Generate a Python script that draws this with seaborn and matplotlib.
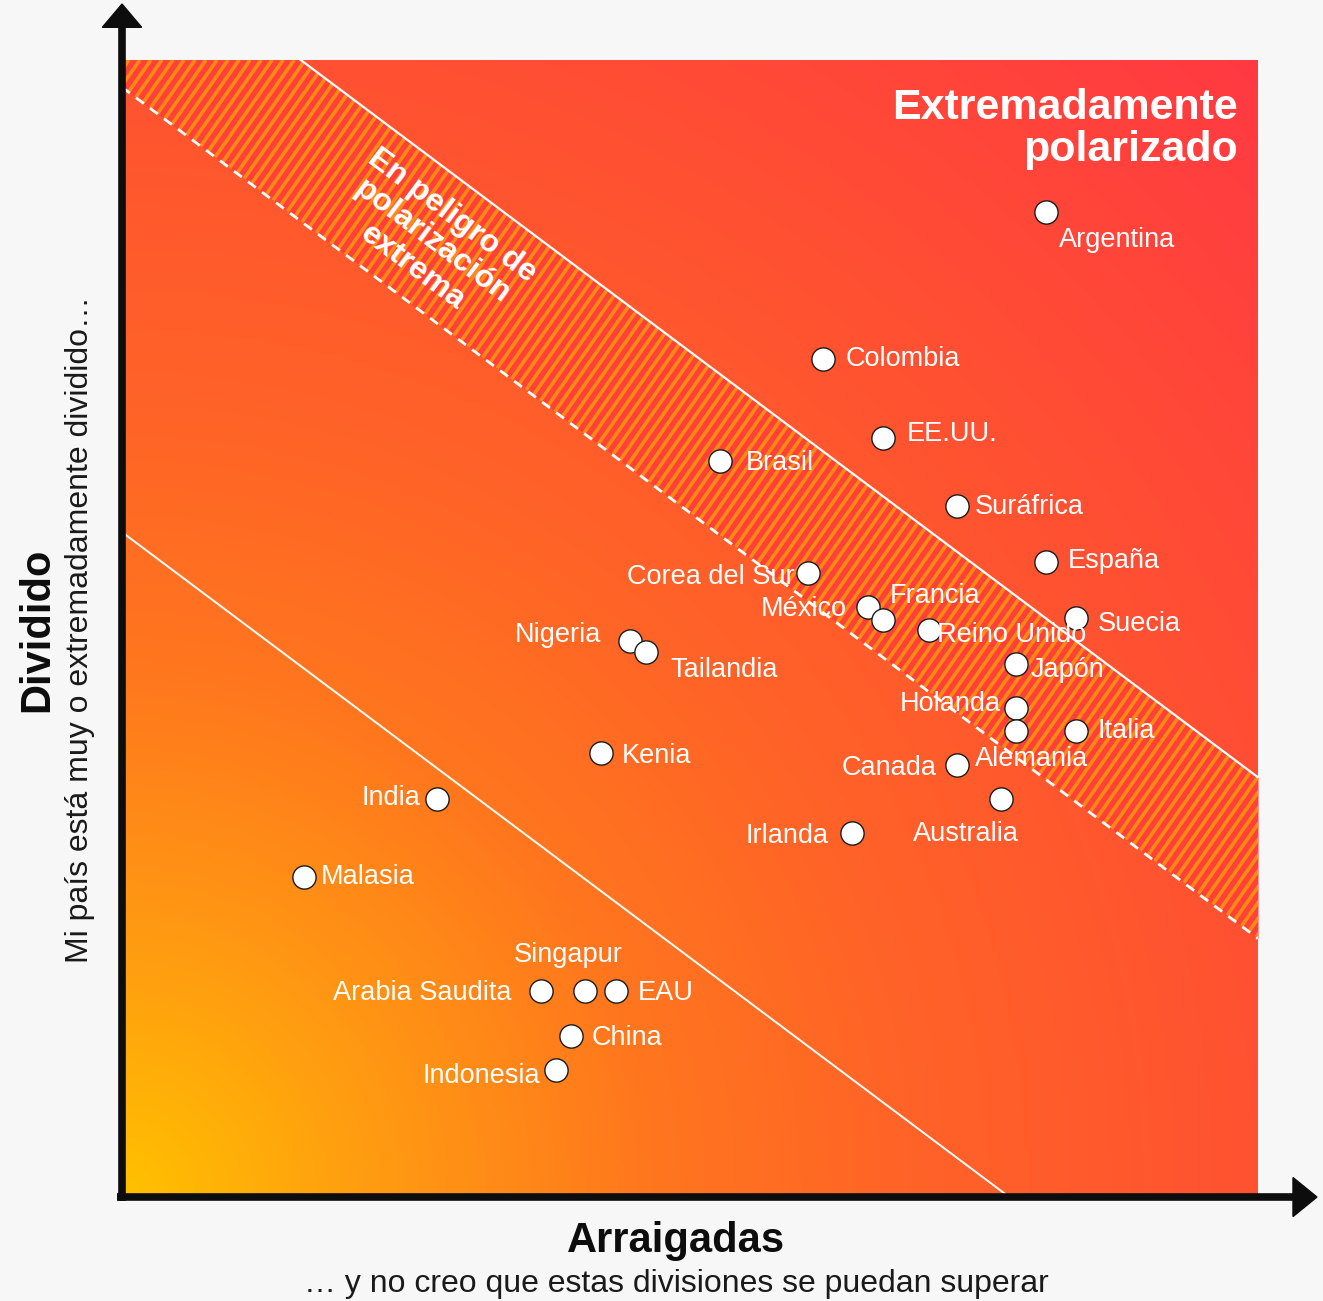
import numpy as np
import pandas as pd
import seaborn as sns
import matplotlib.pyplot as plt
from matplotlib.colors import LinearSegmentedColormap
from matplotlib.collections import LineCollection
from matplotlib.patches import Polygon

# ---- data: position of each country on the two axes (0-100) ----
countries = ['Argentina', 'Colombia', 'EE.UU.', 'Brasil', 'Suráfrica', 'España',
             'Corea del Sur', 'México', 'Francia', 'Reino Unido', 'Suecia', 'Japón',
             'Holanda', 'Alemania', 'Italia', 'Canada', 'Australia', 'Irlanda',
             'Nigeria', 'Tailandia', 'Kenia', 'India', 'Malasia', 'Singapur',
             'Arabia Saudita', 'EAU', 'China', 'Indonesia']
arraigadas = [81.3, 61.7, 67.0, 52.6, 73.5, 81.3,
              60.4, 65.7, 67.0, 71.0, 84.0, 78.7,
              78.7, 78.7, 84.0, 73.5, 77.4, 64.3,
              44.7, 46.1, 42.2, 27.7, 16.0, 40.8,
              36.9, 43.5, 39.5, 38.2]
dividido = [86.6, 73.7, 66.7, 64.7, 60.7, 55.8,
            54.8, 51.8, 50.7, 49.8, 50.8, 46.8,
            42.9, 40.9, 40.9, 37.9, 34.9, 31.9,
            48.8, 47.8, 38.9, 34.9, 28.0, 18.0,
            18.0, 18.0, 14.0, 11.0]

# zone boundaries: y = c - slope * x
zone_slope = 0.75
c_extreme = 111.8
c_risk = 97.6
c_low = 58.4

df = pd.DataFrame({'pais': countries, 'arraigadas': arraigadas, 'dividido': dividido})

# label placement (offset in pixels from the point, alignment)
label_pos = {
    'Argentina': (13, -28, 'left'), 'Colombia': (23, 0, 'left'),
    'EE.UU.': (24, 4, 'left'), 'Brasil': (26, -2, 'left'),
    'Suráfrica': (18, -1, 'left'), 'España': (22, 1, 'left'),
    'Corea del Sur': (-14, -4, 'right'), 'México': (-22, -2, 'right'),
    'Francia': (7, 24, 'left'), 'Reino Unido': (8, -5, 'left'),
    'Suecia': (22, -6, 'left'), 'Japón': (15, -6, 'left'),
    'Holanda': (-15, 4, 'right'), 'Alemania': (-41, -28, 'left'),
    'Italia': (21, 0, 'left'), 'Canada': (-20, -3, 'right'),
    'Australia': (-88, -35, 'left'), 'Irlanda': (-24, -3, 'right'),
    'Nigeria': (-29, 6, 'right'), 'Tailandia': (25, -18, 'left'),
    'Kenia': (20, -3, 'left'), 'India': (-16, 1, 'right'),
    'Malasia': (17, 0, 'left'), 'Singapur': (-17, 36, 'center'),
    'Arabia Saudita': (-30, -2, 'right'), 'EAU': (22, -2, 'left'),
    'China': (21, -2, 'left'), 'Indonesia': (-16, -6, 'right'),
}

sns.set_style('white')
plt.rcParams['font.family'] = ['Liberation Sans', 'DejaVu Sans']

fig = plt.figure(figsize=(13.23, 13.01), dpi=100, facecolor='#F7F7F7')
ax = fig.add_axes([122 / 1323, 106 / 1301, 1136 / 1323, 1135 / 1301])
ax.set_xlim(0, 100)
ax.set_ylim(0, 100)
ax.axis('off')

# radial gradient background from the origin
gx, gy = np.meshgrid(np.linspace(0, 100, 400), np.linspace(0, 100, 400))
r = np.hypot(gx, gy) / np.hypot(100, 100)
cmap = LinearSegmentedColormap.from_list('polar', [
    (0.0, '#FFC000'), (0.16, '#FF9A12'), (0.33, '#FF761E'),
    (0.5, '#FF6228'), (0.707, '#FF5231'), (1.0, '#FF3942')])
ax.imshow(r, extent=[0, 100, 0, 100], origin='lower', cmap=cmap, vmin=0, vmax=1,
          aspect='auto', zorder=0, interpolation='bilinear')

# striped "at risk" band
xs = np.linspace(0, 100, 401)
upper = np.minimum(c_extreme - zone_slope * xs, 100)
lower = c_risk - zone_slope * xs
band = ax.fill_between(xs, lower, upper, color='#FF4139', lw=0, zorder=1)
step = 0.97
tilt = 1.43
segs = [[(x0, 0), (x0 + 100 / tilt, 100)] for x0 in np.arange(-80, 101, step)]
stripes = LineCollection(segs, colors='#FF8A12', linewidths=2.6, zorder=2)
ax.add_collection(stripes)
stripes.set_clip_path(band.get_paths()[0], ax.transData)

# boundary lines
ax.plot(xs, c_extreme - zone_slope * xs, color='white', lw=1.6, zorder=3)
ax.plot(xs, lower, color='white', lw=2.0, dashes=(3.5, 2.8), zorder=3)
ax.plot(xs, c_low - zone_slope * xs, color='white', lw=1.4, zorder=3)

# countries
sns.scatterplot(data=df, x='arraigadas', y='dividido', s=280, color='white',
                edgecolor='#1A1A1A', linewidth=1, zorder=5, ax=ax, legend=False)
for _, row in df.iterrows():
    dx, dy, ha = label_pos[row['pais']]
    ax.annotate(row['pais'], (row['arraigadas'], row['dividido']), xytext=(dx, dy),
                textcoords='offset pixels', ha=ha, va='center', color='white',
                fontsize=19.5, zorder=6)

# zone titles
ax.text(98.2, 97.5, 'Extremadamente\npolarizado', ha='right', va='top',
        fontsize=31, fontweight='bold', color='white', linespacing=1.05, zorder=6)
ax.text(27.3, 84.0, 'En peligro de\npolarización\nextrema', ha='center', va='center',
        rotation=-36.9, rotation_mode='anchor', fontsize=23, fontweight='bold',
        color='white', linespacing=1.1, zorder=6)

# axis arrows
ax.plot([0, 0], [-0.0055, 1.03], transform=ax.transAxes, color='#0D0D0D', lw=5.5,
        clip_on=False, solid_capstyle='butt', zorder=7)
ax.plot([-0.0045, 1.032], [-0.0018, -0.0018], transform=ax.transAxes, color='#0D0D0D',
        lw=5.5, clip_on=False, solid_capstyle='butt', zorder=7)
ax.add_patch(Polygon([(-0.0173, 1.0288), (0.0173, 1.0288), (0, 1.0493)],
                     transform=ax.transAxes, color='#0D0D0D', clip_on=False, zorder=7))
ax.add_patch(Polygon([(1.0308, 0.0154), (1.0308, -0.019), (1.0519, -0.0018)],
                     transform=ax.transAxes, color='#0D0D0D', clip_on=False, zorder=7))

# axis titles
fig.text(0.511, 0.0462, 'Arraigadas', ha='center', va='center', fontsize=30,
         fontweight='bold', color='#0D0D0D')
fig.text(0.511, 0.0132, '… y no creo que estas divisiones se puedan superar',
         ha='center', va='center', fontsize=23, color='#1A1A1A')
fig.text(0.028, 0.516, 'Dividido', ha='center', va='center', rotation=90, fontsize=30,
         fontweight='bold', color='#0D0D0D')
fig.text(0.0605, 0.516, 'Mi país está muy o extremadamente dividido…', ha='center',
         va='center', rotation=90, fontsize=23, color='#1A1A1A')

fig.savefig('out.png', dpi=100, facecolor='#F7F7F7')
